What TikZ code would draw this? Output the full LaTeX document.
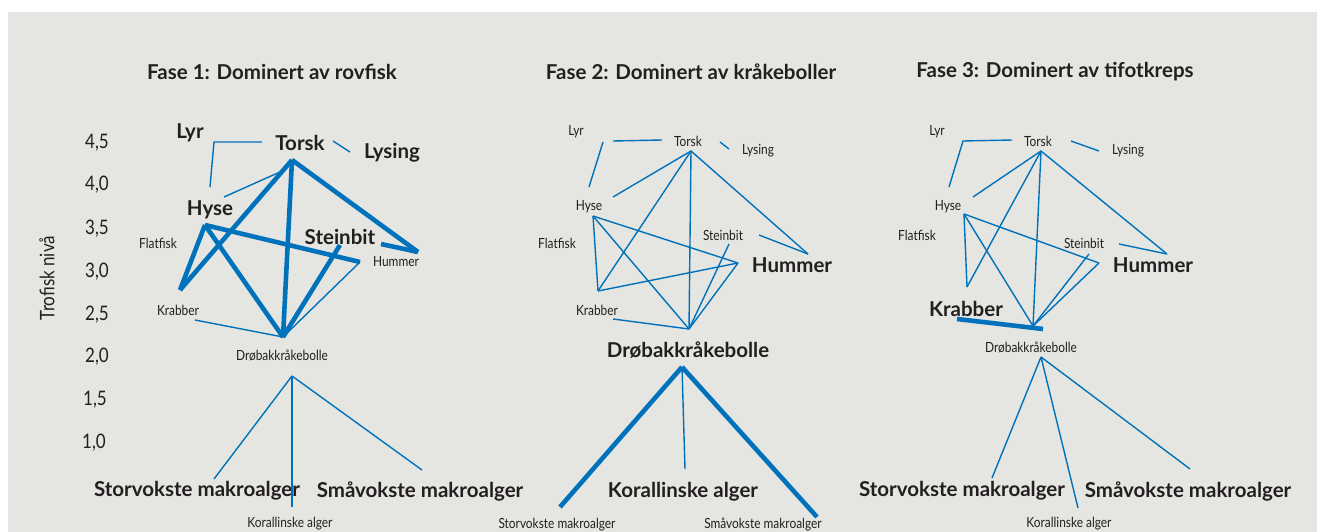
\documentclass[tikz,border=0pt]{standalone}
\usepackage{fontspec}
\setmainfont{Lato}
\newfontfamily\condfont[FakeStretch=0.85]{Lato}
\usetikzlibrary{positioning}
\definecolor{webblue}{RGB}{0,114,187}
\definecolor{panelgray}{RGB}{229,229,225}
\definecolor{inkdark}{RGB}{35,31,32}

\begin{document}
\begin{tikzpicture}[%
    x=1pt, y=-1pt,
    basic/.style={inner sep=0pt, text=inkdark},
    title/.style={basic, font=\fontsize{20.5}{20.5}\selectfont\bfseries},
    big/.style={basic, font=\fontsize{20.5}{20.5}\selectfont\bfseries},
    small/.style={basic, font=\condfont\fontsize{14}{14}\selectfont},
    tick/.style={basic, font=\condfont\fontsize{20}{20}\selectfont},
    link/.style={draw=webblue, line width=1.4pt},
    heavy/.style={draw=webblue, line width=4.6pt}
]
        \useasboundingbox (0,0) rectangle (1317,532);
        \fill[panelgray] (8,12) rectangle (1317,532);

        % titles
        \node[title] (tit1) at (272,72) {Fase 1: Dominert av rovfisk};
        \node[title] (tit2) at (691,72) {Fase 2: Dominert av kråkeboller};
        \node[title] (tit3) at (1055,72) {Fase 3: Dominert av tifotkreps};

        % axis
        \node[tick] (y45) at (97,143) {4,5};
        \node[tick] (y40) at (97,185) {4,0};
        \node[tick] (y35) at (97,229) {3,5};
        \node[tick] (y30) at (97,272) {3,0};
        \node[tick] (y25) at (97,315) {2,5};
        \node[tick] (y20) at (97,357) {2,0};
        \node[tick] (y15) at (95,400) {1,5};
        \node[tick] (y10) at (94,443) {1,0};
        \node[small, rotate=90, font=\condfont\fontsize{20}{20}\selectfont] (ylab) at (47,278) {Trofisk nivå};

        % fase 1
        \node[big] (lyr1) at (190,133) {Lyr};
        \node[big] (torsk1) at (300,143) {Torsk};
        \node[big] (lysing1) at (392,153) {Lysing};
        \node[big] (hyse1) at (210,210) {Hyse};
        \node[small] (flat1) at (158,243) {Flatfisk};
        \node[big] (stein1) at (340,237) {Steinbit};
        \node[small] (hum1) at (396,262) {Hummer};
        \node[small] (krab1) at (178,310) {Krabber};
        \node[small] (drob1) at (282,356) {Drøbakkråkebolle};
        \node[big] (stor1) at (197,491) {Storvokste makroalger};
        \node[big] (sma1) at (420,491) {Småvokste makroalger};
        \node[small] (kor1) at (290,524) {Korallinske alger};

        \coordinate (c1lyrA) at (210,187);
        \coordinate (c1lyrB) at (214,142);
        \coordinate (c1lyrC) at (262,142);
        \coordinate (c1tlA) at (333,141);
        \coordinate (c1tlB) at (350,152);
        \coordinate (c1hyT) at (224,197);
        \coordinate (c1tH) at (280,172);
        \coordinate (c1top) at (292,160);
        \coordinate (c1kr) at (180,290);
        \coordinate (c1dr) at (283,337);
        \coordinate (c1hum) at (418,252);
        \coordinate (c1hy) at (205,225);
        \coordinate (c1hh) at (360,262);
        \coordinate (c1st) at (340,245);
        \coordinate (c1stR) at (381,244);
        \coordinate (c1krL) at (195,320);
        \coordinate (c1bot) at (292,376);
        \coordinate (c1sto) at (214,479);
        \coordinate (c1kor) at (292,507);
        \coordinate (c1sma) at (422,470);

        \path[link] (c1lyrA) -- (c1lyrB) -- (c1lyrC);
        \path[link] (c1tlA) -- (c1tlB);
        \path[link] (c1hyT) -- (c1tH);
        \path[link] (c1dr) -- (c1hh);
        \path[link] (c1krL) -- (c1dr);
        \path[heavy] (c1top) -- (c1kr);
        \path[heavy] (c1top) -- (c1dr);
        \path[heavy] (c1top) -- (c1hum);
        \path[heavy] (c1hy) -- (c1kr);
        \path[heavy] (c1hy) -- (c1dr);
        \path[heavy] (c1hy) -- (c1hh);
        \path[heavy] (c1st) -- (c1dr);
        \path[heavy] (c1stR) -- (c1hum);
        \path[link] (c1bot) -- (c1sto);
        \path[link] (c1bot) -- (c1kor);
        \path[link] (c1bot) -- (c1sma);

        % fase 2
        \node[small] (lyr2) at (576,132) {Lyr};
        \node[small] (torsk2) at (688,141) {Torsk};
        \node[small] (lysing2) at (758,151) {Lysing};
        \node[small] (hyse2) at (589,207) {Hyse};
        \node[small] (flat2) at (557,243) {Flatfisk};
        \node[small] (stein2) at (723,235) {Steinbit};
        \node[big] (hum2) at (792,265) {Hummer};
        \node[small] (krab2) at (597,310) {Krabber};
        \node[big] (drob2) at (688,350) {Drøbakkråkebolle};
        \node[big] (kor2) at (683,492) {Korallinske alger};
        \node[small] (stor2) at (557,525) {Storvokste makroalger};
        \node[small] (sma2) at (763,525) {Småvokste makroalger};

        \coordinate (c2lyrA) at (589,187);
        \coordinate (c2lyrB) at (603,142);
        \coordinate (c2lyrC) at (613,141);
        \coordinate (c2lyrD) at (662,140);
        \coordinate (c2tlA) at (720,142);
        \coordinate (c2tlB) at (729,149);
        \coordinate (c2top) at (691,151);
        \coordinate (c2hyT) at (613,197);
        \coordinate (c2kr) at (598,291);
        \coordinate (c2dr) at (689,329);
        \coordinate (c2hum) at (808,254);
        \coordinate (c2stR) at (759,235);
        \coordinate (c2hy) at (593,216);
        \coordinate (c2hh) at (738,263);
        \coordinate (c2st) at (729,244);
        \coordinate (c2krL) at (613,319);
        \coordinate (c2bot) at (682,367);
        \coordinate (c2sto) at (560,507);
        \coordinate (c2kor) at (685,469);
        \coordinate (c2sma) at (817,517);

        \path[link] (c2lyrA) -- (c2lyrB);
        \path[link] (c2lyrC) -- (c2lyrD);
        \path[link] (c2tlA) -- (c2tlB);
        \path[link] (c2top) -- (c2hyT);
        \path[link] (c2top) -- (c2kr);
        \path[link] (c2top) -- (c2dr);
        \path[link] (c2top) -- (c2hum);
        \path[link] (c2stR) -- (c2hum);
        \path[link] (c2hy) -- (c2kr);
        \path[link] (c2hy) -- (c2dr);
        \path[link] (c2hy) -- (c2hh);
        \path[link] (c2kr) -- (c2hh);
        \path[link] (c2hh) -- (c2dr);
        \path[link] (c2st) -- (c2dr);
        \path[link] (c2krL) -- (c2dr);
        \path[heavy] (c2bot) -- (c2sto);
        \path[link] (c2bot) -- (c2kor);
        \path[heavy] (c2bot) -- (c2sma);

        % fase 3
        \node[small] (lyr3) at (937,132) {Lyr};
        \node[small] (torsk3) at (1038,141) {Torsk};
        \node[small] (lysing3) at (1128,151) {Lysing};
        \node[small] (hyse3) at (948,207) {Hyse};
        \node[small] (flat3) at (917,235) {Flatfisk};
        \node[small] (stein3) at (1084,243) {Steinbit};
        \node[big] (hum3) at (1153,265) {Hummer};
        \node[big] (krab3) at (966,309) {Krabber};
        \node[small] (drob3) at (1031,348) {Drøbakkråkebolle};
        \node[big] (stor3) at (962,491) {Storvokste makroalger};
        \node[big] (sma3) at (1188,491) {Småvokste makroalger};
        \node[small] (kor3) at (1069,524) {Korallinske alger};

        \coordinate (c3lyrA) at (949,187);
        \coordinate (c3lyrB) at (963,141);
        \coordinate (c3lyrC) at (1012,140);
        \coordinate (c3tlA) at (1071,141);
        \coordinate (c3tlB) at (1099,151);
        \coordinate (c3top) at (1041,151);
        \coordinate (c3hyT) at (973,197);
        \coordinate (c3kr) at (967,287);
        \coordinate (c3dr) at (1033,326);
        \coordinate (c3hum) at (1167,254);
        \coordinate (c3stR) at (1119,244);
        \coordinate (c3hy) at (964,214);
        \coordinate (c3hh) at (1099,263);
        \coordinate (c3st) at (1089,254);
        \coordinate (c3krL) at (957,319);
        \coordinate (c3krR) at (1043,329);
        \coordinate (c3bot) at (1041,357);
        \coordinate (c3sto) at (992,478);
        \coordinate (c3kor) at (1078,508);
        \coordinate (c3sma) at (1190,469);

        \path[link] (c3lyrA) -- (c3lyrB) -- (c3lyrC);
        \path[link] (c3tlA) -- (c3tlB);
        \path[link] (c3top) -- (c3hyT);
        \path[link] (c3top) -- (c3kr);
        \path[link] (c3top) -- (c3dr);
        \path[link] (c3top) -- (c3hum);
        \path[link] (c3stR) -- (c3hum);
        \path[link] (c3hy) -- (c3kr);
        \path[link] (c3hy) -- (c3dr);
        \path[link] (c3hy) -- (c3hh);
        \path[link] (c3hh) -- (c3dr);
        \path[link] (c3st) -- (c3dr);
        \path[heavy] (c3krL) -- (c3krR);
        \path[link] (c3bot) -- (c3sto);
        \path[link] (c3bot) -- (c3kor);
        \path[link] (c3bot) -- (c3sma);
\end{tikzpicture}
\end{document}
